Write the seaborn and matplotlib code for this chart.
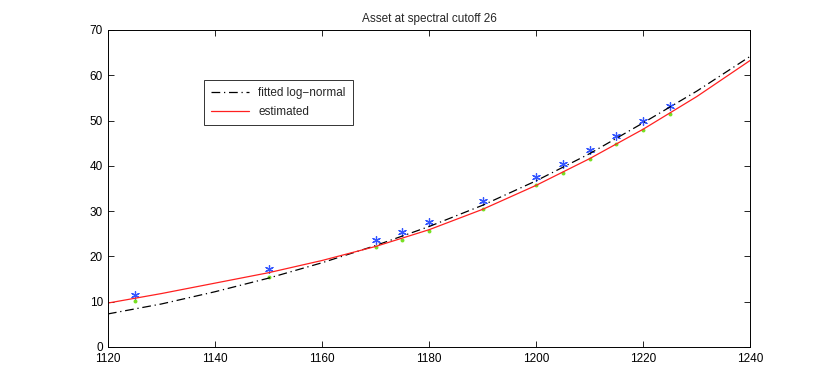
import numpy as np
import pandas as pd
import matplotlib
matplotlib.use('Agg')
import matplotlib.pyplot as plt
import seaborn as sns

# observed points
strikes = [1125, 1150, 1170, 1175, 1180, 1190, 1200, 1205, 1210, 1215, 1220, 1225]
observed = [11.5, 17.2, 23.6, 25.4, 27.5, 32.2, 37.5, 40.3, 43.4, 46.7, 49.9, 53.3]
model_pts = [10.2, 15.5, 22.0, 23.7, 25.7, 30.5, 35.8, 38.5, 41.5, 44.8, 47.9, 51.5]

# curves
grid = [1120, 1130, 1140, 1150, 1160, 1170, 1180, 1190, 1200, 1210, 1220, 1230, 1240]
lognormal = [7.3, 9.5, 12.2, 15.2, 18.6, 22.4, 26.6, 31.3, 36.7, 42.7, 49.5, 56.5, 64.2]
estimated = [9.7, 11.8, 14.1, 16.4, 19.1, 22.2, 25.9, 30.4, 35.7, 41.6, 48.1, 55.3, 63.3]

sns.set_style('white')
plt.rcParams['font.family'] = ['Liberation Sans', 'DejaVu Sans']

fig = plt.figure(figsize=(8.3, 3.88), dpi=100)
ax = fig.add_axes([0.130, 0.1057, 0.774, 0.817])

curves = pd.DataFrame({'x': grid, 'lognormal': lognormal, 'estimated': estimated})
sns.lineplot(data=curves, x='x', y='lognormal', ax=ax, color='black', lw=0.9,
             linestyle=(0, (7, 3, 1, 3)), label='fitted log\u2212normal')
sns.lineplot(data=curves, x='x', y='estimated', ax=ax, color='#ff2020', lw=0.9,
             label='estimated')

pts = pd.DataFrame({'x': strikes, 'obs': observed, 'mod': model_pts})
sns.scatterplot(data=pts, x='x', y='obs', ax=ax, marker=(6, 2, 0), s=32,
                color='#3355ff', linewidth=0.9, edgecolor='#3355ff', legend=False)
sns.scatterplot(data=pts, x='x', y='mod', ax=ax, marker='o', s=8,
                color='#77e022', linewidth=0, legend=False)

ax.set_xlim(1120, 1240)
ax.set_ylim(0, 70)
ax.set_xticks(np.arange(1120, 1241, 20))
ax.set_yticks(np.arange(0, 71, 10))
ax.set_xlabel('')
ax.set_ylabel('')
ax.set_title('Asset at spectral cutoff 26', fontsize=8.5, pad=6)
ax.tick_params(direction='in', length=4, width=0.6, labelsize=8.5, colors='black',
               top=True, right=True, bottom=True, left=True)
ax.tick_params(axis='x', pad=4)
for side in ax.spines.values():
    side.set_color('black')
    side.set_linewidth(0.7)

leg = ax.legend(loc='upper left', bbox_to_anchor=(0.14, 0.862), fontsize=8.5,
                frameon=True, fancybox=False, edgecolor='black',
                handlelength=3.2, borderpad=0.6, labelspacing=0.6)
leg.get_frame().set_linewidth(0.7)

fig.savefig('out.png', dpi=100)
